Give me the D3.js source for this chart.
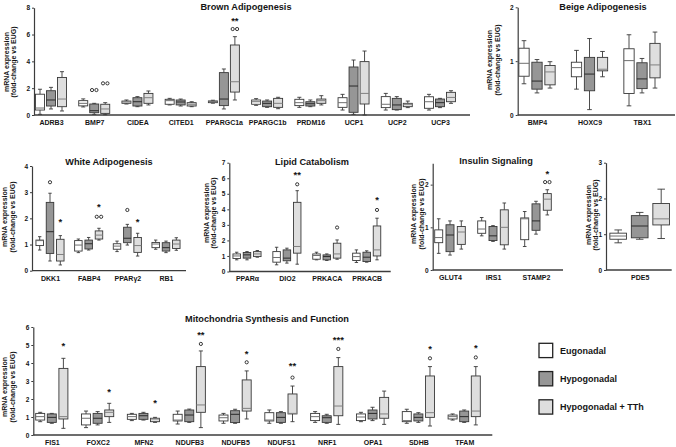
<!DOCTYPE html>
<html><head><meta charset="utf-8">
<script src="https://cdn.jsdelivr.net/npm/d3@7"></script>
<style>
body{margin:0;background:#fff}
svg{display:block}
text{font-family:"Liberation Sans",Arial,sans-serif;font-weight:bold;fill:#151515}
</style>
</head><body><svg id="c" width="676" height="447"></svg>
<script>
// ---------- DATA ----------
const groupNames = ["Eugonadal", "Hypogonadal", "Hypogonadal + TTh"];
const groupFills = ["#ffffff", "#969696", "#dedede"];
const medianColors = ["#707070", "#2a2a2a", "#808080"];

// box stats: [min, q1, median, q3, max]
const brownGenes = ["ADRB3","BMP7","CIDEA","CITED1","PPARGC1a","PPARGC1b","PRDM16","UCP1","UCP2","UCP3"];
const brownEug  = [[0.05,0.37,0.52,1.55,1.92],[0.6,0.68,0.87,1.07,1.2],[0.82,0.87,0.97,1.04,1.12],[0.75,0.8,1.07,1.17,1.24],[0.88,0.92,1.0,1.05,1.1],[0.72,0.8,0.99,1.12,1.22],[0.57,0.7,0.92,1.17,1.32],[0.37,0.57,0.92,1.29,1.54],[0.37,0.55,0.8,1.37,1.61],[0.37,0.5,0.99,1.36,1.54]];
const brownHypo = [[0.45,0.67,1.12,1.81,2.06],[0.05,0.17,0.32,0.82,0.87],[0.62,0.67,0.99,1.29,1.37],[0.67,0.75,0.97,1.12,1.19],[0.45,0.7,1.19,3.16,3.43],[0.57,0.62,0.87,1.04,1.12],[0.62,0.67,0.84,0.99,1.12],[0.05,0.2,2.16,3.58,4.1],[0.37,0.4,0.75,1.24,1.37],[0.55,0.62,0.92,1.19,1.24]];
const brownTTh  = [[0.3,0.62,1.19,2.8,3.23],[0.02,0.12,0.45,0.8,0.92],[0.75,0.87,1.29,1.61,1.79],[0.62,0.67,0.8,0.92,0.99],[1.12,1.71,2.48,5.22,5.84],[0.47,0.57,0.87,1.24,1.32],[0.75,0.87,1.07,1.19,1.44],[0.0,0.82,1.61,3.98,4.77],[0.55,0.62,0.8,0.87,1.04],[0.87,0.99,1.31,1.69,1.81]];
const brownOutliers = [["BMP7",1,1.86,2],["BMP7",2,2.36,2],["PPARGC1a",2,6.41,2]];
const brownStars = [["PPARGC1a",2,"**",7.15]];
const brownTicks = [0,2,4,6,8];

const beigeGenes = ["BMP4","HOXC9","TBX1"];
const beigeEug  = [[0.58,0.72,0.96,1.24,1.38],[0.48,0.71,0.88,0.98,1.2],[0.17,0.4,1.01,1.23,1.49]];
const beigeHypo = [[0.41,0.48,0.63,0.98,1.03],[0.1,0.45,0.76,1.07,1.42],[0.41,0.49,0.67,0.97,1.05]];
const beigeTTh  = [[0.5,0.56,0.8,0.92,0.99],[0.71,0.82,0.85,1.07,1.18],[0.5,0.69,0.93,1.33,1.54]];
const beigeOutliers = [];
const beigeStars = [];
const beigeTicks = [0,1,2];

const whiteGenes = ["DKK1","FABP4","PPARγ2","RB1"];
const whiteEug  = [[0.79,0.96,1.15,1.17,1.3],[0.69,0.75,0.98,1.15,1.21],[0.73,0.82,0.94,1.03,1.13],[0.82,0.88,1.02,1.08,1.17]];
const whiteHypo = [[0.37,0.66,1.49,2.61,2.96],[0.79,0.83,1.03,1.17,1.27],[0.98,1.07,1.24,1.66,1.77],[0.69,0.75,0.88,1.07,1.13]];
const whiteTTh  = [[0.22,0.37,0.62,1.2,1.34],[1.17,1.21,1.36,1.52,1.62],[0.56,0.7,0.96,1.27,1.43],[0.78,0.85,1.02,1.17,1.26]];
const whiteOutliers = [["DKK1",1,3.38,1],["FABP4",2,2.06,2],["PPARγ2",1,2.32,1]];
const whiteStars = [["DKK1",2,"*",1.94],["FABP4",2,"*",2.5],["PPARγ2",2,"*",1.94]];
const whiteTicks = [0,1,2,3,4];

const lipidGenes = ["PPARα","DIO2","PRKACA","PRKACB"];
const lipidEug  = [[0.75,0.84,1.0,1.13,1.24],[0.43,0.6,0.9,1.28,1.56],[0.75,0.79,1.03,1.13,1.24],[0.58,0.71,0.96,1.18,1.39]];
const lipidHypo = [[0.75,0.86,1.07,1.22,1.28],[0.54,0.69,0.86,1.39,1.5],[0.71,0.75,0.96,1.07,1.13],[0.6,0.64,0.92,1.24,1.33]];
const lipidTTh  = [[0.92,0.96,1.13,1.28,1.35],[0.47,1.18,1.61,4.45,5.2],[0.79,0.86,1.13,1.82,2.03],[0.75,1.0,1.39,2.93,3.43]];
const lipidOutliers = [["DIO2",2,5.61,1],["PRKACA",2,2.83,1],["PRKACB",2,3.96,1]];
const lipidStars = [["DIO2",2,"**",6.32],["PRKACB",2,"*",4.75]];
const lipidTicks = [0,1,2,3,4,5,6,7];

const insulinGenes = ["GLUT4","IRS1","STAMP2"];
const insulinEug  = [[0.39,0.64,0.76,0.94,1.2],[0.8,0.86,0.96,1.15,1.23],[0.55,0.71,1.2,1.22,1.37]];
const insulinHypo = [[0.35,0.43,0.82,1.06,1.15],[0.67,0.69,0.8,1.02,1.04],[0.84,0.93,1.15,1.55,1.61]];
const insulinTTh  = [[0.49,0.6,0.89,1.02,1.15],[0.49,0.59,1.0,1.41,1.57],[1.29,1.4,1.66,1.79,1.88]];
const insulinOutliers = [["STAMP2",2,2.06,2]];
const insulinStars = [["STAMP2",2,"*",2.3]];
const insulinTicks = [0,1,2];

const pde5Genes = ["PDE5"];
const pde5Eug  = [[0.76,0.86,0.95,1.03,1.12]];
const pde5Hypo = [[0.86,0.9,1.23,1.52,1.61]];
const pde5TTh  = [[0.88,1.26,1.43,1.86,2.26]];
const pde5Outliers = [];
const pde5Stars = [];
const pde5Ticks = [0,1,2,3];

const mitoGenes = ["FIS1","FOXC2","MFN2","NDUFB3","NDUFB5","NDUFS1","NRF1","OPA1","SDHB","TFAM"];
const mitoEug  = [[0.74,0.83,1.02,1.2,1.26],[0.41,0.56,0.93,1.17,1.33],[0.8,0.87,1.02,1.15,1.2],[0.61,0.78,0.83,1.15,1.33],[0.65,0.78,0.96,1.11,1.2],[0.65,0.78,0.83,1.24,1.39],[0.7,0.8,1.02,1.2,1.3],[0.74,0.8,1.0,1.17,1.26],[0.65,0.74,0.8,1.3,1.43],[0.83,0.89,1.02,1.11,1.17]];
const mitoHypo = [[0.65,0.7,0.98,1.17,1.2],[0.56,0.65,0.93,1.2,1.3],[0.83,0.87,1.07,1.2,1.26],[0.7,0.74,1.11,1.39,1.44],[0.65,0.69,1.15,1.35,1.43],[0.65,0.7,0.98,1.24,1.3],[0.65,0.7,0.96,1.07,1.15],[0.8,0.89,1.2,1.39,1.54],[0.7,0.78,0.98,1.17,1.24],[0.7,0.74,1.02,1.33,1.39]];
const mitoTTh  = [[0.37,0.89,1.02,3.7,4.26],[0.7,1.02,1.26,1.39,1.76],[0.7,0.74,0.89,0.93,0.98],[0.41,1.26,1.67,3.8,4.67],[0.89,1.33,1.48,3.06,3.56],[0.74,1.17,1.2,2.28,2.72],[0.59,1.07,1.61,3.8,4.3],[0.59,0.93,1.17,2.09,2.44],[0.5,0.98,1.24,3.28,3.8],[0.56,1.02,1.33,3.28,3.8]];
const mitoOutliers = [["NDUFB3",2,5.06,1],["NDUFB5",2,4.04,1],["NDUFS1",2,3.19,1],["NRF1",2,4.78,1],["SDHB",2,4.26,1],["TFAM",2,4.31,1]];
const mitoStars = [["FIS1",2,"*",5.04],["FOXC2",2,"*",2.5],["MFN2",2,"*",1.89],["NDUFB3",2,"**",5.65],["NDUFB5",2,"*",4.63],["NDUFS1",2,"**",3.94],["NRF1",2,"***",5.41],["SDHB",2,"*",4.91],["TFAM",2,"*",4.94]];
const mitoTicks = [0,1,2,3,4,5,6];

const yLabel1 = "mRNA expression";
const yLabel2 = "(fold-change vs EUG)";

// ---------- LAYOUT ----------
const panels = [
  {title:"Brown Adipogenesis", genes:brownGenes, series:[brownEug,brownHypo,brownTTh], outliers:brownOutliers, stars:brownStars, ticks:brownTicks, max:8,
   L:{x0:34, x1:470, yb:115, yt:7.7, c0:51, c1:440, bw:9, gap:11, tx:246, ty:10, lx:[6,13], ly:62}},
  {title:"Beige Adipogenesis", genes:beigeGenes, series:[beigeEug,beigeHypo,beigeTTh], outliers:beigeOutliers, stars:beigeStars, ticks:beigeTicks, max:2,
   L:{x0:517.7, x1:675, yb:115, yt:7.3, c0:537, c1:642, bw:10.3, gap:13, tx:603, ty:10, lx:[489.5,497], ly:60}},
  {title:"White Adipogenesis", genes:whiteGenes, series:[whiteEug,whiteHypo,whiteTTh], outliers:whiteOutliers, stars:whiteStars, ticks:whiteTicks, max:4,
   L:{x0:32, x1:186, yb:270.7, yt:166, c0:50, c1:166, bw:7.5, gap:10.3, tx:109, ty:165, lx:[4.5,12], ly:217}},
  {title:"Lipid Catabolism", genes:lipidGenes, series:[lipidEug,lipidHypo,lipidTTh], outliers:lipidOutliers, stars:lipidStars, ticks:lipidTicks, max:7,
   L:{x0:229.3, x1:390.7, yb:271.5, yt:162.7, c0:247, c1:366.7, bw:7.5, gap:10.3, tx:312, ty:165, lx:[206.7,213.7], ly:213}},
  {title:"Insulin Signaling", genes:insulinGenes, series:[insulinEug,insulinHypo,insulinTTh], outliers:insulinOutliers, stars:insulinStars, ticks:insulinTicks, max:2.5,
   L:{x0:432.7, x1:563, yb:270, yt:163.3, c0:450, c1:536, bw:8, gap:11.3, tx:496, ty:164, lx:[413.5,421], ly:214}},
  {title:"", genes:pde5Genes, series:[pde5Eug,pde5Hypo,pde5TTh], outliers:pde5Outliers, stars:pde5Stars, ticks:pde5Ticks, max:3,
   L:{x0:606, x1:671.7, yb:270, yt:162.7, c0:639.7, c1:639.7, bw:16.7, gap:21.5, tx:0, ty:0, lx:[588.5,595.5], ly:215}},
  {title:"Mitochondria Synthesis and Function", genes:mitoGenes, series:[mitoEug,mitoHypo,mitoTTh], outliers:mitoOutliers, stars:mitoStars, ticks:mitoTicks, max:6,
   L:{x0:33.3, x1:492.3, yb:435, yt:327, c0:51.8, c1:464.2, bw:9, gap:11.6, tx:267, ty:322, lx:[4.5,12.5], ly:387}}
];

const svg = d3.select("#c");
const axisColor = "#3c3c3c";
const boxStroke = "#383838";

function drawPanel(p){
  const L = p.L;
  const y = d3.scaleLinear().domain([0, p.max]).range([L.yb, L.yt]);
  const x = d3.scalePoint().domain(p.genes).range([L.c0, L.c1]);
  const off = d3.scalePoint().domain([0,1,2]).range([-L.gap, L.gap]);
  const g = svg.append("g");

  // y axis
  const ya = g.append("g").attr("transform", `translate(${L.x0},0)`)
    .call(d3.axisLeft(y).tickValues(p.ticks).tickSize(2).tickSizeOuter(0).tickPadding(2).tickFormat(d3.format("d")));
  ya.select(".domain").attr("stroke", axisColor).attr("stroke-width", 1.2);
  ya.selectAll(".tick line").attr("stroke", axisColor);
  ya.selectAll(".tick text").attr("font-size", 6.5).attr("font-family", "Liberation Sans, Arial, sans-serif").attr("font-weight","bold").attr("fill","#151515");

  // x axis line
  g.append("line").attr("x1", L.x0).attr("x2", L.x1).attr("y1", L.yb).attr("y2", L.yb)
    .attr("stroke", axisColor).attr("stroke-width", 1.3);
  // category labels
  const xa = g.append("g").attr("transform", `translate(0,${L.yb})`)
    .call(d3.axisBottom(x).tickSize(0).tickPadding(5));
  xa.select(".domain").remove();
  xa.selectAll(".tick text").attr("font-size", 7).attr("font-family", "Liberation Sans, Arial, sans-serif").attr("font-weight","bold").attr("fill","#151515");

  // y label
  const yl = g.append("g");
  [yLabel1, yLabel2].forEach((t, i) => {
    yl.append("text").attr("transform", `translate(${L.lx[i]},${L.ly}) rotate(-90)`)
      .attr("text-anchor","middle").attr("dominant-baseline","central").attr("font-size", 7).text(t);
  });

  // title
  if (p.title) {
    g.append("text").attr("x", L.tx).attr("y", L.ty).attr("text-anchor","middle").attr("font-size", 9.2).text(p.title);
  }

  // boxes
  const capW = L.bw * 0.45;
  p.series.forEach((ser, k) => {
    ser.forEach((s, i) => {
      const cx = x(p.genes[i]) + off(k);
      const [mn, q1, md, q3, mx] = s;
      const bg = g.append("g");
      bg.append("line").attr("x1",cx).attr("x2",cx).attr("y1",y(mx)).attr("y2",y(q3)).attr("stroke",boxStroke).attr("stroke-width",0.9);
      bg.append("line").attr("x1",cx).attr("x2",cx).attr("y1",y(q1)).attr("y2",y(mn)).attr("stroke",boxStroke).attr("stroke-width",0.9);
      bg.append("line").attr("x1",cx-capW/2).attr("x2",cx+capW/2).attr("y1",y(mx)).attr("y2",y(mx)).attr("stroke",boxStroke).attr("stroke-width",0.9);
      bg.append("line").attr("x1",cx-capW/2).attr("x2",cx+capW/2).attr("y1",y(mn)).attr("y2",y(mn)).attr("stroke",boxStroke).attr("stroke-width",0.9);
      bg.append("rect").attr("x", cx - L.bw/2).attr("y", y(q3)).attr("width", L.bw).attr("height", Math.max(0.5, y(q1)-y(q3)))
        .attr("fill", groupFills[k]).attr("stroke", boxStroke).attr("stroke-width", 0.9);
      bg.append("line").attr("x1",cx-L.bw/2).attr("x2",cx+L.bw/2).attr("y1",y(md)).attr("y2",y(md))
        .attr("stroke", medianColors[k]).attr("stroke-width", 1);
    });
  });

  // outliers
  p.outliers.forEach(([gene, k, v, n]) => {
    const cx = x(gene) + off(k);
    for (let j = 0; j < n; j++) {
      g.append("circle").attr("cx", cx + (j - (n-1)/2) * 4.4).attr("cy", y(v)).attr("r", 1.6)
        .attr("fill","none").attr("stroke","#222").attr("stroke-width",0.9);
    }
  });
  // stars
  p.stars.forEach(([gene, k, t, v]) => {
    const cx = x(gene) + off(k);
    g.append("text").attr("x", cx).attr("y", y(v) + 5).attr("text-anchor","middle").attr("font-size", 9.5).text(t);
  });
}
panels.forEach(drawPanel);

// legend
const legY = d3.scalePoint().domain(groupNames).range([350.5, 407]);
const leg = svg.append("g");
groupNames.forEach((nm, k) => {
  leg.append("rect").attr("x", 539).attr("y", legY(nm) - 7.2).attr("width", 13.7).attr("height", 14.3)
    .attr("fill", groupFills[k]).attr("stroke", "#222").attr("stroke-width", 1.3);
  leg.append("text").attr("x", 560).attr("y", legY(nm)).attr("dominant-baseline","central").attr("font-size", 9).text(nm);
});
</script></body></html>
